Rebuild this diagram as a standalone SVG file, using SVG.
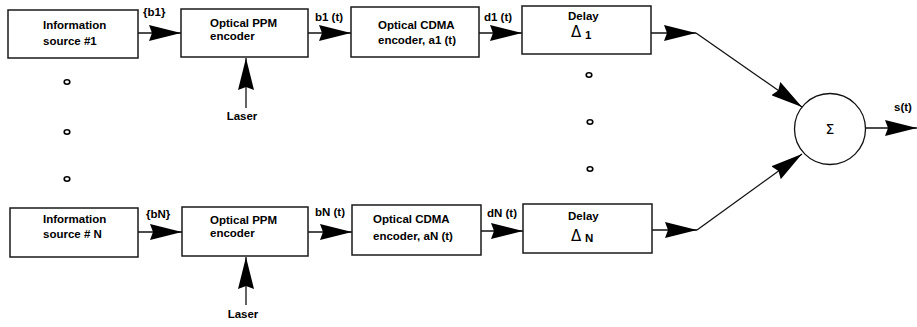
<svg xmlns="http://www.w3.org/2000/svg" width="917" height="327" viewBox="0 0 917 327">
<style>
.box{fill:#fff;stroke:#1a1a1a;stroke-width:1.5}
.t{font-family:"Liberation Sans",Arial,sans-serif;font-weight:bold;font-size:11.5px;fill:#000}
.sym{font-family:"DejaVu Sans","Liberation Sans",sans-serif;font-weight:normal;fill:#000}
.ln{stroke:#111;stroke-width:1.3;fill:none}
.dot{fill:none;stroke:#000;stroke-width:1.6}
</style>
<defs>
<marker id="ah" markerUnits="userSpaceOnUse" markerWidth="32" markerHeight="16" refX="32" refY="8" orient="auto" viewBox="0 0 32 16">
<path d="M0,0 L32,8 L0,16 L3,8 z" fill="#000"/>
</marker>
</defs>
<g id="connectors">
<line class="ln" x1="138" y1="33" x2="181" y2="33" marker-end="url(#ah)"/>
<line class="ln" x1="308" y1="33" x2="351" y2="33" marker-end="url(#ah)"/>
<line class="ln" x1="479" y1="33" x2="522" y2="33" marker-end="url(#ah)"/>
<line class="ln" x1="651" y1="33" x2="696" y2="33" marker-end="url(#ah)"/>
<line class="ln" x1="696" y1="33" x2="802" y2="107" marker-end="url(#ah)"/>
<line class="ln" x1="246" y1="108" x2="246" y2="58" marker-end="url(#ah)"/>
<line class="ln" x1="138" y1="232" x2="182" y2="232" marker-end="url(#ah)"/>
<line class="ln" x1="308" y1="232" x2="352" y2="232" marker-end="url(#ah)"/>
<line class="ln" x1="481" y1="231" x2="523" y2="231" marker-end="url(#ah)"/>
<line class="ln" x1="652" y1="230" x2="697" y2="230" marker-end="url(#ah)"/>
<line class="ln" x1="697" y1="230" x2="802" y2="154" marker-end="url(#ah)"/>
<line class="ln" x1="246" y1="305" x2="246" y2="257" marker-end="url(#ah)"/>
<line class="ln" x1="865" y1="128" x2="917" y2="128" marker-end="url(#ah)"/>
</g>
<g id="src1"><rect class="box" x="8" y="10" width="130" height="48"/><text class="t" x="43" y="29">Information</text><text class="t" x="43" y="45">source #1</text></g>
<g id="ppm1"><rect class="box" x="181" y="9" width="127" height="48"/><text class="t" x="210" y="27">Optical PPM</text><text class="t" x="210" y="40">encoder</text></g>
<g id="cdma1"><rect class="box" x="351" y="7" width="128" height="50"/><text class="t" x="378" y="29">Optical CDMA</text><text class="t" x="378" y="44">encoder, a1 (t)</text></g>
<g id="delay1"><rect class="box" x="522" y="6" width="129" height="48"/><text class="t" x="568" y="19.5">Delay</text><text class="sym" x="571" y="36.5" font-size="15">Δ</text><text class="t" x="585" y="39">1</text></g>
<g id="srcN"><rect class="box" x="10" y="208" width="128" height="49"/><text class="t" x="43" y="223">Information</text><text class="t" x="43" y="238">source # N</text></g>
<g id="ppmN"><rect class="box" x="182" y="207" width="126" height="49"/><text class="t" x="210" y="224">Optical PPM</text><text class="t" x="210" y="237">encoder</text></g>
<g id="cdmaN"><rect class="box" x="352" y="205" width="129" height="50"/><text class="t" x="373" y="223">Optical CDMA</text><text class="t" x="373" y="240">encoder, aN (t)</text></g>
<g id="delayN"><rect class="box" x="523" y="204" width="129" height="49"/><text class="t" x="568" y="220">Delay</text><text class="sym" x="571" y="241" font-size="15">Δ</text><text class="t" x="585" y="242">N</text></g>
<g id="sum"><circle cx="830" cy="129" r="35.5" fill="#fff" stroke="#111" stroke-width="1.3"/><text class="sym" x="830" y="134" font-size="14" text-anchor="middle">Σ</text></g>
<g id="labels">
<text class="t" x="143" y="16">{b1}</text>
<text class="t" x="315" y="21">b1 (t)</text>
<text class="t" x="484" y="21">d1 (t)</text>
<text class="t" x="146" y="218">{bN}</text>
<text class="t" x="315" y="216">bN (t)</text>
<text class="t" x="487" y="217">dN (t)</text>
<text class="t" x="894" y="111" font-size="11">s(t)</text>
<text class="t" x="242" y="120" text-anchor="middle">Laser</text>
<text class="t" x="243" y="318" text-anchor="middle">Laser</text>
</g>
<g id="dots">
<ellipse class="dot" cx="67" cy="82" rx="2.8" ry="2.2"/>
<ellipse class="dot" cx="67" cy="132" rx="2.8" ry="2.2"/>
<ellipse class="dot" cx="67" cy="179" rx="2.8" ry="2.2"/>
<ellipse class="dot" cx="589" cy="75" rx="2.8" ry="2.2"/>
<ellipse class="dot" cx="590" cy="122" rx="2.8" ry="2.2"/>
<ellipse class="dot" cx="590" cy="169" rx="2.8" ry="2.2"/>
</g>
</svg>
